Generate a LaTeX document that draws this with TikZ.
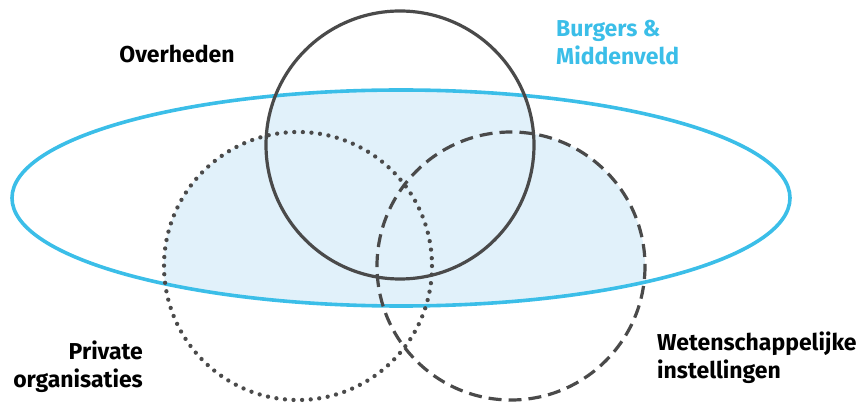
\documentclass[tikz,border=0pt]{standalone}
\usepackage{fontspec}
\setmainfont{Fira Sans}
\definecolor{burgerblauw}{HTML}{3BBEE8}
\definecolor{lichtblauw}{HTML}{E1F1FA}
\definecolor{donkergrijs}{HTML}{4A4A4A}

\begin{document}
\begin{tikzpicture}[x=1pt,y=-1pt,
    cirkel/.style={donkergrijs, line width=3.2pt},
    tekst/.style={font=\fontsize{23}{28}\selectfont\bfseries, inner sep=0pt}]
    \useasboundingbox (0,0) rectangle (859,403);
    % middelpunten
    \coordinate (O) at (400,145);
    \coordinate (P) at (298,266);
    \coordinate (W) at (511,266);
    \coordinate (B) at (401,198);
    % lichtblauwe doorsnede
    \begin{scope}
        \clip (B) ellipse [x radius=389, y radius=108];
        \fill[lichtblauw] (O) circle[radius=134] (P) circle[radius=134] (W) circle[radius=134];
    \end{scope}
    % ellips en cirkels
    \draw[burgerblauw, line width=3.6pt] (B) ellipse [x radius=389, y radius=108];
    \draw[cirkel] (O) circle[radius=134];
    \draw[cirkel, line width=4.3pt, line cap=round, dash pattern=on 0pt off 8.6pt] (P) circle[radius=134];
    \draw[cirkel, dash pattern=on 13pt off 7pt] (W) circle[radius=134];
    % teksten (base = onderste regel)
    \node[tekst, anchor=base] (overheden) at (177,63) {Overheden};
    \node[tekst, text=burgerblauw, align=left, anchor=base west] (burgers) at (556,65) {Burgers \&\\Middenveld};
    \node[tekst, align=right, anchor=base east] (private) at (143,387) {Private\\organisaties};
    \node[tekst, align=left, anchor=base west] (weten) at (657,378) {Wetenschappelijke\\instellingen};
\end{tikzpicture}
\end{document}
